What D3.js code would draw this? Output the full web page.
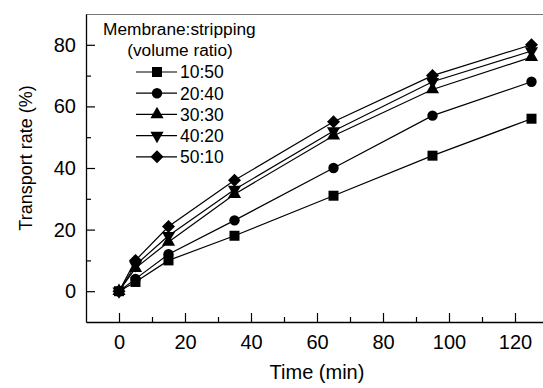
<!DOCTYPE html>
<html>
<head>
<meta charset="utf-8">
<script src="https://cdn.jsdelivr.net/npm/d3@7"></script>
<style>
  body { margin: 0; background: #fff; }
  text { font-family: Arial, "Liberation Sans", sans-serif; fill: #000; }
</style>
</head>
<body>
<div id="chart"></div>
<script>
// time points (min)
var times = [0, 5, 15, 35, 65, 95, 125];
// legend names, one per series
var ratios = ["10:50", "20:40", "30:30", "40:20", "50:10"];
// transport rate (%) per series
var rate_10_50 = [0, 3, 10, 18, 31, 44, 56];
var rate_20_40 = [0, 4, 12, 23, 40, 57, 68];
var rate_30_30 = [0, 7.5, 16, 31.5, 50.5, 65.5, 76];
var rate_40_20 = [0, 8.5, 18, 33, 52, 68, 78];
var rate_50_10 = [0, 10, 21, 36, 55, 70, 80];
var xTicks = [0, 20, 40, 60, 80, 100, 120];
var yTicks = [0, 20, 40, 60, 80];

var series = [rate_10_50, rate_20_40, rate_30_30, rate_40_20, rate_50_10];
// marker: symbol type, area, rotation
var shapes = [d3.symbolSquare, d3.symbolCircle, d3.symbolTriangle, d3.symbolTriangle, d3.symbolSquare];
var sizes = [100, 85, 75, 75, 85];
var rots = [0, 0, 0, 180, 45];

var W = 543, H = 388;
var margin = { top: 14, right: -5, bottom: 66, left: 86 };
var width = W - margin.left - margin.right,
  height = H - margin.top - margin.bottom;

var svg = d3.select("#chart").append("svg")
  .attr("width", W)
  .attr("height", H);

var g = svg.append("g")
  .attr("transform", "translate(" + margin.left + "," + margin.top + ")");

var x = d3.scaleLinear().domain([-10, 130]).range([0, width]);
var y = d3.scaleLinear().domain([-10, 90]).range([height, 0]);

// box: top line grey, left & bottom black
g.append("line")
  .attr("x1", 0).attr("x2", width)
  .attr("y1", 0.5).attr("y2", 0.5)
  .attr("stroke", "#777").attr("stroke-width", 1);

function symbolPath(i) {
  return d3.symbol().type(shapes[i]).size(sizes[i])();
}

// x axis
var xAxis = g.append("g")
  .attr("transform", "translate(0," + height + ")")
  .call(d3.axisBottom(x).tickValues(xTicks).tickSize(-9).tickPadding(13).tickSizeOuter(0));
xAxis.selectAll("text").style("font-size", "20px");
g.append("g")
  .attr("transform", "translate(0," + height + ")")
  .call(d3.axisBottom(x).tickValues([10, 30, 50, 70, 90, 110]).tickSize(-5).tickFormat("").tickSizeOuter(0))
  .select(".domain").remove();

// y axis
var yAxis = g.append("g")
  .call(d3.axisLeft(y).tickValues(yTicks).tickSize(-9).tickPadding(10).tickSizeOuter(0));
yAxis.selectAll("text").style("font-size", "20px");
g.append("g")
  .call(d3.axisLeft(y).tickValues([10, 30, 50, 70]).tickSize(-5).tickFormat("").tickSizeOuter(0))
  .select(".domain").remove();

g.selectAll(".domain").attr("stroke", "#000").attr("stroke-width", 1.3);
g.selectAll(".tick line").attr("stroke", "#000").attr("stroke-width", 1.2);

// lines and markers
var line = d3.line()
  .x(function (d, i) { return x(times[i]); })
  .y(function (d) { return y(d); });

series.forEach(function (s, k) {
  g.append("path")
    .datum(s)
    .attr("fill", "none")
    .attr("stroke", "#000")
    .attr("stroke-width", 1.2)
    .attr("d", line);
  g.selectAll(".m" + k)
    .data(s)
    .enter()
    .append("path")
    .attr("class", "m" + k)
    .attr("d", symbolPath(k))
    .attr("transform", function (d, i) {
      return "translate(" + x(times[i]) + "," + y(d) + ") rotate(" + rots[k] + ")";
    })
    .attr("fill", "#000");
});

// legend
var leg = svg.append("g");
leg.append("text").attr("x", 103).attr("y", 35)
  .style("font-size", "17.3px").text("Membrane:stripping");
leg.append("text").attr("x", 180).attr("y", 56).attr("text-anchor", "middle")
  .style("font-size", "17.3px").text("(volume ratio)");
ratios.forEach(function (r, k) {
  var ly = 72 + k * 21.2;
  leg.append("line").attr("x1", 136).attr("x2", 177)
    .attr("y1", ly).attr("y2", ly)
    .attr("stroke", "#000").attr("stroke-width", 1.2);
  leg.append("path").attr("d", symbolPath(k))
    .attr("transform", "translate(157," + ly + ") rotate(" + rots[k] + ")")
    .attr("fill", "#000");
  leg.append("text").attr("x", 180).attr("y", ly + 6.3)
    .style("font-size", "17.5px").text(r);
});

// axis titles
svg.append("text")
  .attr("x", 317).attr("y", 379)
  .attr("text-anchor", "middle")
  .style("font-size", "20px")
  .text("Time (min)");
svg.append("text")
  .attr("transform", "translate(32,158) rotate(-90)")
  .attr("text-anchor", "middle")
  .style("font-size", "18px")
  .text("Transport rate (%)");
</script>
</body>
</html>
